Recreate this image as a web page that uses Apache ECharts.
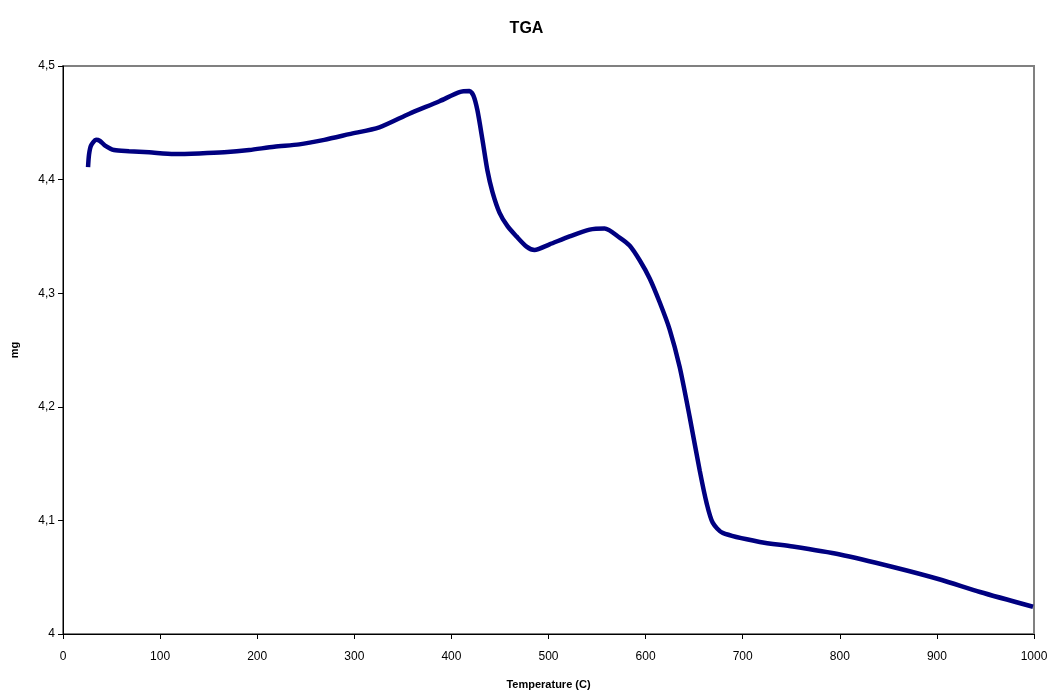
<!DOCTYPE html>
<html>
<head>
<meta charset="utf-8">
<script src="https://cdn.jsdelivr.net/npm/echarts@6/dist/echarts.min.js"></script>
<style>
  html, body { margin: 0; padding: 0; background: #fff; }
  #main { width: 1053px; height: 693px; }
</style>
</head>
<body>
<div id="main"></div>
<script>
  // TGA curve
  var temperature = [25.8, 26.8, 28.9, 34.0, 38.1, 43.3, 52.6, 68.0, 88.7, 114.4, 140.2, 166.0, 191.8, 217.5, 243.3, 269.1, 294.9, 325.8, 356.7, 387.7, 408.3, 418.6, 422.7, 426.8, 432.0, 437.1, 442.3, 449.5, 457.8, 467.0, 477.4, 485.6, 501.1, 521.7, 542.3, 557.8, 573.2, 583.5, 593.9, 604.2, 614.5, 624.8, 635.1, 645.4, 655.7, 662.9, 669.1, 679.4, 717.6, 751.6, 800.1, 854.7, 903.2, 944.4, 999.0];
  var mass = [4.411, 4.422, 4.430, 4.435, 4.434, 4.430, 4.426, 4.425, 4.424, 4.4225, 4.423, 4.424, 4.426, 4.429, 4.431, 4.435, 4.440, 4.446, 4.458, 4.469, 4.477, 4.478, 4.474, 4.461, 4.435, 4.408, 4.389, 4.371, 4.359, 4.350, 4.341, 4.338, 4.343, 4.350, 4.356, 4.357, 4.349, 4.342, 4.329, 4.313, 4.292, 4.268, 4.235, 4.191, 4.144, 4.115, 4.098, 4.089, 4.081, 4.077, 4.070, 4.059, 4.048, 4.037, 4.024];

  var myChart = echarts.init(document.getElementById('main'));
  var points = temperature.map(function (t, i) { return [t, mass[i]]; });

  var option = {
    backgroundColor: '#fff',
    animation: false,
    title: {
      text: 'TGA',
      left: 'center',
      top: 16,
      textStyle: { fontFamily: 'Liberation Sans', fontSize: 16, fontWeight: 'bold', color: '#000' }
    },
    grid: {
      left: 63, right: 19, top: 66, bottom: 59,
      outerBoundsMode: 'none',
      containLabel: false,
      show: true, borderColor: '#808080', borderWidth: 2, backgroundColor: '#fff'
    },
    xAxis: {
      type: 'value',
      min: 0, max: 1000, interval: 100,
      name: 'Temperature (C)',
      nameLocation: 'middle',
      nameGap: 45,
      nameTextStyle: { fontFamily: 'Liberation Sans', fontSize: 11, fontWeight: 'bold', color: '#000' },
      axisLine: { lineStyle: { color: '#000', width: 1 } },
      axisTick: { show: true, length: 5, lineStyle: { color: '#000' } },
      axisLabel: {
        fontFamily: 'Liberation Sans', fontSize: 12, color: '#000', margin: 17,
        formatter: function (v) { return String(v); }
      },
      splitLine: { show: false }
    },
    yAxis: {
      type: 'value',
      min: 4, max: 4.5, interval: 0.1,
      name: 'mg',
      nameLocation: 'middle',
      nameGap: 43,
      nameTextStyle: { fontFamily: 'Liberation Sans', fontSize: 11, fontWeight: 'bold', color: '#000' },
      axisLine: { show: true, lineStyle: { color: '#000', width: 1 } },
      axisTick: { show: true, length: 5, lineStyle: { color: '#000' } },
      axisLabel: {
        fontFamily: 'Liberation Sans', fontSize: 12, color: '#000', margin: 8,
        formatter: function (v) { return String(Math.round(v * 10) / 10).replace('.', ','); }
      },
      splitLine: { show: false }
    },
    series: [
      {
        type: 'line',
        data: points,
        showSymbol: false,
        smooth: 0.25,
        lineStyle: { color: '#000080', width: 4.5 }
      }
    ]
  };
  myChart.setOption(option);
</script>
</body>
</html>
